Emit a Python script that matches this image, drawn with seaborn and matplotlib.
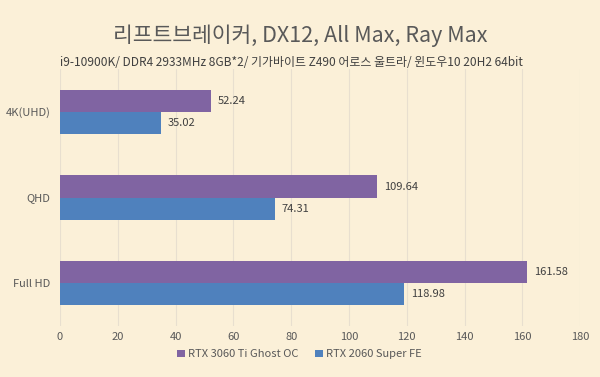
import numpy as np
import pandas as pd
import matplotlib
matplotlib.use('Agg')
from matplotlib import pyplot as plt
import seaborn as sns

# ---------- data ----------
resolutions = ['4K(UHD)', 'QHD', 'Full HD']
gpus = ['RTX 3060 Ti Ghost OC', 'RTX 2060 Super FE']
fps_3060ti = [52.24, 109.64, 161.58]
fps_2060s = [35.02, 74.31, 118.98]

title_str = '리프트브레이커, DX12, All Max, Ray Max'
sub_str = 'i9-10900K/ DDR4 2933MHz 8GB*2/ 기가바이트 Z490 어로스 울트라/ 윈도우10 20H2 64bit'

df = pd.DataFrame({
    'res': resolutions * 2,
    'gpu': [gpus[0]] * 3 + [gpus[1]] * 3,
    'fps': fps_3060ti + fps_2060s,
})

# ---------- style ----------
bg = '#FBF0D8'
mypurple = '#8064A2'
myblue = '#4F81BD'
txt = '#595959'

sns.set_theme(style='white')
plt.rcParams['font.family'] = ['Noto Sans CJK KR', 'DejaVu Sans']

fig = plt.figure(figsize=(6, 3.77), dpi=100, facecolor=bg)
ax = fig.add_axes([0.1, 0.135, 0.867, 0.682])
ax.set_facecolor(bg)

sns.barplot(data=df, x='fps', y='res', hue='gpu', order=resolutions,
            hue_order=gpus, palette=[mypurple, myblue], orient='h',
            width=0.515, gap=0, saturation=1, linewidth=0, ax=ax, legend=True)

# value labels
for cont in ax.containers:
    ax.bar_label(cont, fmt='%.2f', padding=5, fontsize=8, color='#404040')

ax.set_xlim(0, 180)
ax.set_xticks(np.arange(0, 181, 20))
ax.grid(axis='x', color='#E8DFCF', linewidth=0.8)
ax.set_axisbelow(True)
for s in ax.spines.values():
    s.set_visible(False)
ax.tick_params(length=0, labelcolor=txt)
ax.tick_params(axis='y', pad=7, labelsize=8)
ax.tick_params(axis='x', pad=4, labelsize=8)
ax.set_xlabel('')
ax.set_ylabel('')

leg = ax.legend(loc='center', bbox_to_anchor=(0.46, -0.11), ncol=2,
                frameon=False, fontsize=8, handlelength=0.7, handleheight=0.7,
                handletextpad=0.3, columnspacing=1.5)
for t in leg.get_texts():
    t.set_color(txt)

fig.text(0.5, 0.905, title_str, ha='center', va='center', fontsize=15.5, color=txt)
fig.text(0.485, 0.835, sub_str, ha='center', va='center', fontsize=8.6, color='#404040')

fig.savefig('out.png', dpi=100, facecolor=bg)
